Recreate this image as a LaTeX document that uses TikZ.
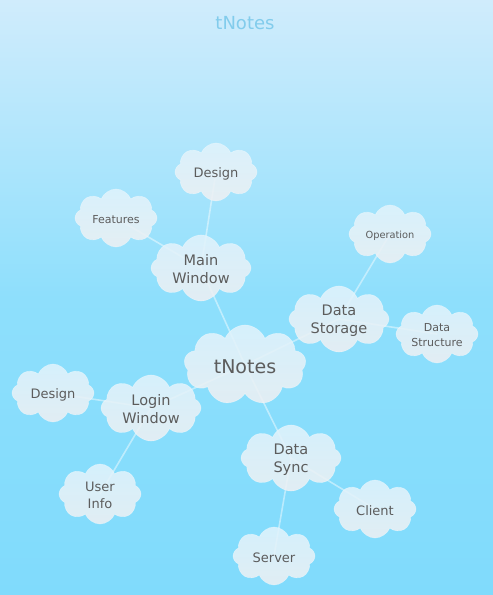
\documentclass[tikz,border=0pt]{standalone}
\usepackage{fontspec}
\setmainfont{DejaVu Sans}
\usetikzlibrary{shapes.symbols}
\definecolor{skytop}{RGB}{208,236,252}
\definecolor{skymid}{RGB}{142,223,252}
\definecolor{skybot}{RGB}{128,219,252}
\definecolor{puffTop}{RGB}{224,243,252}
\definecolor{puffBot}{RGB}{238,240,243}
\definecolor{inkgray}{RGB}{92,92,92}
\definecolor{titleblue}{RGB}{130,204,236}
\pgfdeclarelayer{backdrop}
\pgfdeclarelayer{links}
\pgfsetlayers{backdrop,links,main}
\tikzset{
  puff/.style={cloud, cloud puffs=8, cloud puff arc=135, cloud ignores aspect,
    inner sep=0pt, draw=white, draw opacity=0.35, line width=0.6pt,
    top color=puffTop, bottom color=puffBot, fill opacity=0.88},
  bigpuff/.style={puff, minimum width=122pt, minimum height=80pt, cloud puffs=9},
  midpuff/.style={puff, minimum width=100pt, minimum height=66pt},
  smallpuff/.style={puff, minimum width=82pt, minimum height=58pt},
  lbl/.style={text=inkgray, align=center, inner sep=0pt, yshift=-1.5pt},
  link/.style={draw=white, draw opacity=0.45, line width=1.6pt},
}
\begin{document}
\begin{tikzpicture}[x=1pt, y=-1pt]
\begin{pgfonlayer}{backdrop}
  \shade[top color=skytop, bottom color=skybot, middle color=skymid]
    (0,0) rectangle (493,595);
\end{pgfonlayer}
\useasboundingbox (0,0) rectangle (493,595);

\node[text=titleblue, font=\fontsize{18}{20}\selectfont] (title) at (245,23) {tNotes};

% clouds
\node[midpuff] (mainwin) at (201,268) {};
\node[smallpuff] (design1) at (216,172) {};
\node[smallpuff] (features) at (116,218) {};
\node[smallpuff] (operation) at (390,234) {};
\node[smallpuff] (structure) at (437,334) {};
\node[smallpuff] (design2) at (53,393) {};
\node[smallpuff, minimum height=60pt] (userinfo) at (100,494) {};
\node[smallpuff] (client) at (375,509) {};
\node[smallpuff] (server) at (274,556) {};
\node[midpuff] (sync) at (291,458) {};
\node[bigpuff] (root) at (245,365) {};
\node[midpuff] (storage) at (339,319) {};
\node[midpuff] (login) at (151,408) {};

% labels
\node[lbl, font=\fontsize{19}{21}\selectfont] (t-root) at (root) {tNotes};
\node[lbl, font=\fontsize{14.5}{18}\selectfont] (t-mainwin) at (mainwin) {Main\\Window};
\node[lbl, font=\fontsize{14.5}{18}\selectfont] (t-storage) at (storage) {Data\\Storage};
\node[lbl, font=\fontsize{14.5}{18}\selectfont] (t-login) at (login) {Login\\Window};
\node[lbl, font=\fontsize{14.5}{18}\selectfont] (t-sync) at (sync) {Data\\Sync};
\node[lbl, font=\fontsize{13}{16}\selectfont] (t-design1) at (design1) {Design};
\node[lbl, font=\fontsize{11}{14}\selectfont] (t-features) at (features) {Features};
\node[lbl, font=\fontsize{9.8}{12}\selectfont] (t-operation) at (operation) {Operation};
\node[lbl, font=\fontsize{11}{15}\selectfont] (t-structure) at (structure) {Data\\Structure};
\node[lbl, font=\fontsize{13}{16}\selectfont] (t-design2) at (design2) {Design};
\node[lbl, font=\fontsize{13}{17}\selectfont] (t-userinfo) at (userinfo) {User\\Info};
\node[lbl, font=\fontsize{13}{16}\selectfont] (t-client) at (client) {Client};
\node[lbl, font=\fontsize{13}{16}\selectfont] (t-server) at (server) {Server};

% connectors behind the clouds
\begin{pgfonlayer}{links}
  \draw[link] (root.center) -- (mainwin.center);
  \draw[link] (root.center) -- (storage.center);
  \draw[link] (root.center) -- (login.center);
  \draw[link] (root.center) -- (sync.center);
  \draw[link] (mainwin.center) -- (design1.center);
  \draw[link] (mainwin.center) -- (features.center);
  \draw[link] (storage.center) -- (operation.center);
  \draw[link] (storage.center) -- (structure.center);
  \draw[link] (login.center) -- (design2.center);
  \draw[link] (login.center) -- (userinfo.center);
  \draw[link] (sync.center) -- (client.center);
  \draw[link] (sync.center) -- (server.center);
\end{pgfonlayer}
\end{tikzpicture}
\end{document}
